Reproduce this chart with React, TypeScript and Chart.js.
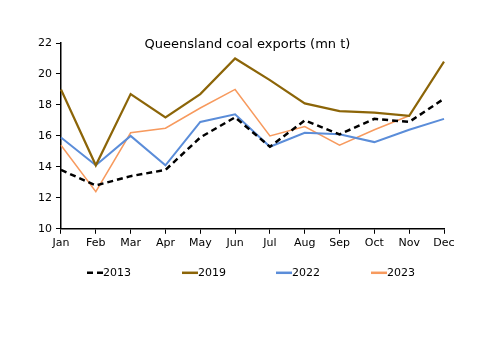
import React, { useEffect, useRef } from "react";
import { Chart, registerables } from "chart.js";

Chart.register(...registerables);

const months = ["Jan", "Feb", "Mar", "Apr", "May", "Jun", "Jul", "Aug", "Sep", "Oct", "Nov", "Dec"];
const s2013 = [13.8, 12.8, 13.4, 13.8, 15.9, 17.2, 15.3, 17.0, 16.1, 17.1, 16.9, 18.4];
const s2019 = [19.0, 14.1, 18.7, 17.2, 18.7, 21.0, 19.6, 18.1, 17.6, 17.5, 17.3, 20.8];
const s2022 = [15.9, 14.1, 16.0, 14.1, 16.9, 17.4, 15.3, 16.2, 16.1, 15.6, 16.4, 17.1];
const s2023 = [15.4, 12.4, 16.2, 16.5, 17.8, 19.0, 16.0, 16.6, 15.4, 16.4, 17.3, null];
const title = "Queensland coal exports (mn t)";
const FONT = "'DejaVu Sans', sans-serif";

export default function App() {
  const ref = useRef<HTMLCanvasElement>(null);
  useEffect(() => {
    const canvas = ref.current!;
    const overlay = {
      id: "overlay",
      afterDraw(chart: any) {
        const ctx = chart.ctx;
        const area = chart.chartArea;
        ctx.save();
        ctx.fillStyle = "#000";
        ctx.font = `13px ${FONT}`;
        ctx.textAlign = "center";
        ctx.textBaseline = "middle";
        ctx.fillText(title, (area.left + area.right) / 2 - 5, area.top + 2);
        // legend
        ctx.font = `11px ${FONT}`;
        ctx.textAlign = "left";
        const ly = area.bottom + 44;
        const xs = [79, 174, 268, 363];
        chart.data.datasets.forEach((ds: any, i: number) => {
          const x = xs[i];
          ctx.beginPath();
          ctx.strokeStyle = ds.borderColor;
          ctx.lineWidth = 2.5;
          ctx.setLineDash(ds.borderDash || []);
          ctx.moveTo(x, ly);
          ctx.lineTo(x + 16, ly);
          ctx.stroke();
          ctx.setLineDash([]);
          ctx.fillStyle = "#000";
          ctx.fillText(ds.label, x + 16, ly);
        });
        ctx.restore();
      },
    };
    const chart = new Chart(canvas, {
      type: "line",
      data: {
        labels: months,
        datasets: [
          { label: "2013", data: s2013, borderColor: "#000000", borderWidth: 2.5, borderDash: [6, 4], pointRadius: 0 },
          { label: "2019", data: s2019, borderColor: "#8C6508", borderWidth: 2.2, pointRadius: 0 },
          { label: "2022", data: s2022, borderColor: "#5B8DD9", borderWidth: 2, pointRadius: 0 },
          { label: "2023", data: s2023, borderColor: "#F79A5E", borderWidth: 1.5, pointRadius: 0 },
        ],
      },
      options: {
        responsive: false,
        animation: false,
        events: [],
        layout: { padding: { top: 35, right: 48, bottom: 92, left: 26 } },
        plugins: { legend: { display: false }, title: { display: false }, tooltip: { enabled: false } },
        scales: {
          x: {
            offset: false,
            grid: { display: true, drawOnChartArea: false, drawTicks: true, tickLength: 5, color: "#000" },
            border: { display: true, color: "#000", width: 1.5 },
            ticks: { color: "#000", font: { family: FONT, size: 11 }, maxRotation: 0, autoSkip: false, padding: 3 },
          },
          y: {
            min: 10,
            max: 22,
            grid: { display: true, drawOnChartArea: false, drawTicks: true, tickLength: 5, color: "#000" },
            border: { display: true, color: "#000", width: 1.5 },
            ticks: { stepSize: 2, color: "#000", font: { family: FONT, size: 11 }, padding: 4 },
          },
        },
      },
      plugins: [overlay],
    });
    return () => chart.destroy();
  }, []);
  return <canvas ref={ref} width={484} height={337} />;
}
